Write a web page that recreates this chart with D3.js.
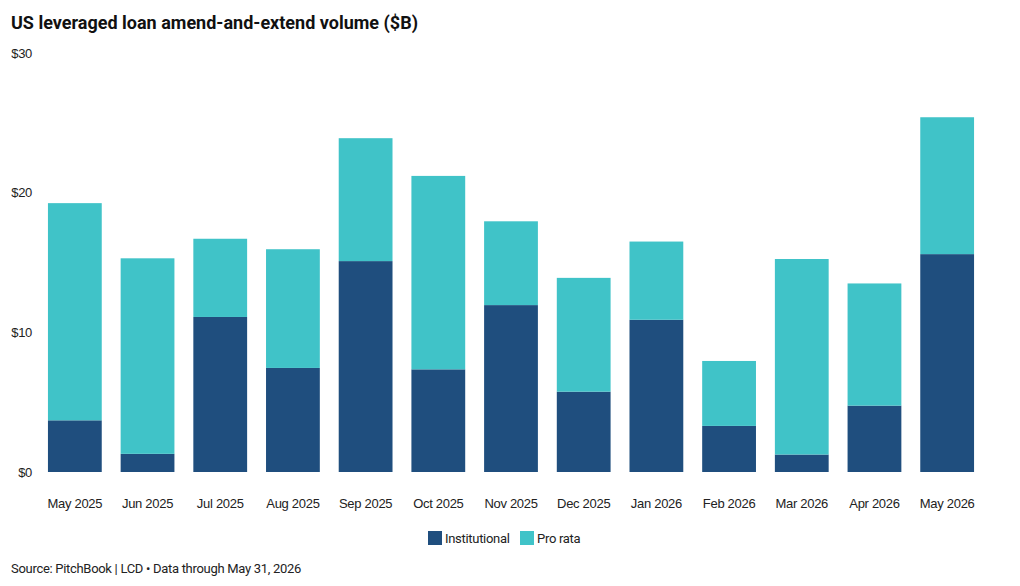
<!DOCTYPE html>
<html lang="en">
<head>
<meta charset="utf-8">
<title>US leveraged loan amend-and-extend volume</title>
<script src="https://cdn.jsdelivr.net/npm/d3@7"></script>
<style>
  body { margin: 0; background: #fff; }
  svg { font-family: Roboto, sans-serif; }
</style>
</head>
<body>
<div id="chart"></div>
<script>
// data ($B)
const months = ["May 2025", "Jun 2025", "Jul 2025", "Aug 2025", "Sep 2025", "Oct 2025", "Nov 2025",
                "Dec 2025", "Jan 2026", "Feb 2026", "Mar 2026", "Apr 2026", "May 2026"];
const institutional = [3.7, 1.3, 11.1, 7.45, 15.1, 7.35, 11.95, 5.75, 10.9, 3.3, 1.25, 4.75, 15.6];
const proRata = [15.55, 14.0, 5.6, 8.5, 8.8, 13.85, 6.0, 8.15, 5.6, 4.65, 14.0, 8.75, 9.8];
const yTicks = [0, 10, 20, 30];
const seriesNames = ["Institutional", "Pro rata"];
const colors = ["#1f4e7e", "#40c3c8"];

const W = 1020, H = 586;
const svg = d3.select("#chart").append("svg").attr("width", W).attr("height", H);

const rows = months.map((m, i) => ({ month: m, Institutional: institutional[i], "Pro rata": proRata[i] }));
const stack = d3.stack().keys(seriesNames)(rows);

const x = d3.scaleBand().domain(months).range([38.5, 983.5]).paddingInner(0.26).paddingOuter(0.13);
const y = d3.scaleLinear().domain([0, 30]).range([472, 53]);

// title
svg.append("text")
   .attr("x", 11).attr("y", 29)
   .style("font-size", "18px").style("font-weight", "bold").attr("fill", "#111")
   .text("US leveraged loan amend-and-extend volume ($B)");

// y axis (labels only)
const yAxis = svg.append("g")
   .attr("transform", "translate(32,0)")
   .call(d3.axisLeft(y).tickValues(yTicks).tickSize(0).tickPadding(0).tickFormat(d => "$" + d));
yAxis.select(".domain").remove();
yAxis.selectAll("text").style("font-size", "13px").attr("fill", "#222").style("letter-spacing", "-0.3px");

// bars
svg.append("g").selectAll("g")
   .data(stack)
   .join("g")
   .attr("fill", (d, i) => colors[i])
   .selectAll("rect")
   .data(d => d)
   .join("rect")
   .attr("x", d => x(d.data.month))
   .attr("width", x.bandwidth())
   .attr("y", d => y(d[1]))
   .attr("height", d => y(d[0]) - y(d[1]));

// x axis
const xAxis = svg.append("g")
   .attr("transform", "translate(0,472)")
   .call(d3.axisBottom(x).tickSize(0).tickPadding(27));
xAxis.select(".domain").remove();
xAxis.selectAll("text").style("font-size", "13px").attr("fill", "#222").style("letter-spacing", "-0.3px");

// legend
const legend = svg.append("g").attr("transform", "translate(428,531)");
const items = legend.selectAll("g").data(seriesNames).join("g")
   .attr("transform", (d, i) => `translate(${i * 92},0)`);
items.append("rect").attr("width", 14).attr("height", 14).attr("fill", (d, i) => colors[i]);
items.append("text").attr("x", 17).attr("y", 12)
   .style("font-size", "13px").style("letter-spacing", "-0.3px").attr("fill", "#222").text(d => d);

// source
svg.append("text")
   .attr("x", 11).attr("y", 573)
   .style("font-size", "13px").style("letter-spacing", "-0.3px").attr("fill", "#222")
   .text("Source: PitchBook | LCD \u2022 Data through May 31, 2026");
</script>
</body>
</html>
